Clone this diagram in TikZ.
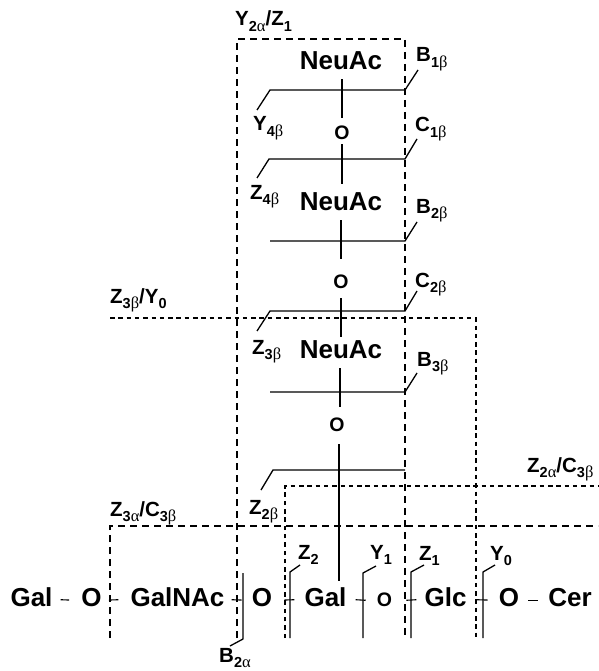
\documentclass[tikz,border=0pt]{standalone}
\usepackage{fontspec}
\setmainfont{Liberation Sans}
\newfontfamily\grk{Liberation Serif}
\usetikzlibrary{positioning}
\newcommand{\low}[1]{\raisebox{-5.5pt}{\fontsize{14.5}{14.5}\selectfont #1}}
\newcommand{\alp}{{\grk\mdseries\fontsize{16.5}{16.5}\selectfont α}}
\newcommand{\bet}{{\grk\mdseries\fontsize{16.5}{16.5}\selectfont β}}
\tikzset{
  sugar/.style={inner sep=0pt, anchor=base, font=\bfseries\fontsize{26}{26}\selectfont},
  oxy/.style={inner sep=0pt, anchor=base, font=\bfseries\fontsize{19.5}{19.5}\selectfont},
  frag/.style={inner sep=0pt, anchor=base west, font=\bfseries\fontsize{20.5}{20.5}\selectfont},
  cut/.style={line width=1.3pt, line join=miter},
  bond/.style={line width=1.1pt},
  longbox/.style={line width=2pt, dash pattern=on 7pt off 5pt},
  medbox/.style={line width=1.3pt, dash pattern=on 7pt off 5pt},
  finebox/.style={line width=1.3pt, dash pattern=on 4.5pt off 3.8pt}
}
\begin{document}
\begin{tikzpicture}[x=1pt,y=-1pt]
\useasboundingbox (0,0) rectangle (598,671);
% sugars
\node[sugar] (neuaca) at (341,70) {NeuAc};
\node[sugar] (neuacb) at (341,210) {NeuAc};
\node[sugar] (neuacc) at (341,358) {NeuAc};
\node[oxy] (oa) at (342,140) {O};
\node[oxy] (ob) at (341,288) {O};
\node[oxy] (oc) at (337,431) {O};
\node[sugar] (gala) at (31.5,606) {Gal};
\node[sugar] (oe) at (91.5,606) {O};
\node[sugar] (galnac) at (177.5,606) {GalNAc};
\node[sugar] (of) at (262,606) {O};
\node[sugar] (galb) at (325.5,606) {Gal};
\node[oxy] (og) at (384.5,606) {O};
\node[sugar] (glc) at (445.5,606) {Glc};
\node[sugar] (oh) at (509,606) {O};
\node[sugar] (cer) at (570,606) {Cer};
% chain
\draw[bond] ([shift={(1,9)}]neuaca.south) -- ([yshift=8pt]oa.north);
\draw[bond] ([yshift=-4pt]oa.south) -- ([shift={(1,-8)}]neuacb.north);
\draw[bond] ([yshift=-10pt]neuacb.south) -- ([yshift=15pt]ob.north);
\draw[bond] ([yshift=-10pt]ob.south) -- ([yshift=3pt]neuacc.north);
\draw[bond] ([shift={(-1,10)}]neuacc.south) -- ([shift={(3,-10)}]oc.north);
\draw[bond] ([shift={(2,13)}]oc.south) -- ([shift={(13.5,-6)}]galb.north);
\draw[bond] ([shift={(8,3)}]gala.east) -- ([shift={(-12,3)}]oe.west);
\draw[bond] ([shift={(7,3)}]oe.east) -- ([shift={(-12,3)}]galnac.west);
\draw[bond] ([shift={(7,3)}]galnac.east) -- ([shift={(-10,3)}]of.west);
\draw[bond] ([shift={(12,3)}]of.east) -- ([shift={(-10,3)}]galb.west);
\draw[bond] ([shift={(9,3)}]galb.east) -- ([shift={(-11,1)}]og.west);
\draw[bond] ([shift={(14,1)}]og.east) -- ([shift={(-8,3)}]glc.west);
\draw[bond] ([shift={(10,3)}]glc.east) -- ([shift={(-11,3)}]oh.west);
\draw[bond] ([shift={(9,3)}]oh.east) -- ([shift={(-10,3)}]cer.west);
% dashed boxes
\coordinate (boxbl) at (237,638); \coordinate (boxtl) at (237,39);
\coordinate (boxtr) at (405,39); \coordinate (boxbr) at (405,638);
\draw[longbox] (boxbl) -- (boxtl) -- (boxtr) -- (boxbr);
\coordinate (zyl) at (110,318); \coordinate (zyr) at (476,318); \coordinate (zyb) at (476,638);
\draw[finebox] (zyl) -- (zyr) -- (zyb);
\coordinate (zcl) at (110,638); \coordinate (zct) at (110,526); \coordinate (zcr) at (598,526);
\draw[medbox] (zcl) -- (zct) -- (zcr);
\coordinate (zdl) at (285,638); \coordinate (zdt) at (285,486); \coordinate (zdr) at (598,486);
\draw[finebox] (zdl) -- (zdt) -- (zdr);
% cleavages
\coordinate (ya) at (257,110); \coordinate (yb) at (270,90); \coordinate (yc) at (405,90); \coordinate (yd) at (418,70);
\draw[cut] (ya) -- (yb) -- (yc) -- (yd);
\coordinate (za) at (257,178); \coordinate (zb) at (269,159); \coordinate (zc) at (405,159); \coordinate (zd) at (417,139);
\draw[cut] (za) -- (zb) -- (zc) -- (zd);
\coordinate (xb) at (270,241); \coordinate (xc) at (405,241); \coordinate (xd) at (417,222);
\draw[cut] (xb) -- (xc) -- (xd);
\coordinate (wa) at (257,331); \coordinate (wb) at (270,311); \coordinate (wc) at (405,311); \coordinate (wd) at (417,291);
\draw[cut] (wa) -- (wb) -- (wc) -- (wd);
\coordinate (vb) at (270,392); \coordinate (vc) at (405,392); \coordinate (vd) at (417,373);
\draw[cut] (vb) -- (vc) -- (vd);
\coordinate (ua) at (261,490); \coordinate (ub) at (273,470); \coordinate (uc) at (405,470);
\draw[cut] (ua) -- (ub) -- (uc);
\coordinate (ba) at (243,573); \coordinate (bb) at (243,639); \coordinate (bc) at (230,646);
\draw[cut] (ba) -- (bb) -- (bc);
\coordinate (ca) at (290,638); \coordinate (cb) at (290,572); \coordinate (cc) at (300,565);
\draw[cut] (ca) -- (cb) -- (cc);
\coordinate (da) at (363,638); \coordinate (db) at (363,573); \coordinate (dc) at (376,566);
\draw[cut] (da) -- (db) -- (dc);
\coordinate (ea) at (411,638); \coordinate (eb) at (411,572); \coordinate (ec) at (424,565);
\draw[cut] (ea) -- (eb) -- (ec);
\coordinate (fa) at (483,638); \coordinate (fb) at (483,572); \coordinate (fc) at (495,565);
\draw[cut] (fa) -- (fb) -- (fc);
% labels
\node[frag] (yz) at (235,26) {Y\low{2\alp}/Z\low{1}};
\node[frag] (b1) at (416,62) {B\low{1\bet}};
\node[frag] (y4) at (253,131) {Y\low{4\bet}};
\node[frag] (c1) at (415,132) {C\low{1\bet}};
\node[frag] (z4) at (250,199) {Z\low{4\bet}};
\node[frag] (b2) at (416,213) {B\low{2\bet}};
\node[frag] (c2) at (415,287) {C\low{2\bet}};
\node[frag] (zy) at (110,303) {Z\low{3\bet}/Y\low{0}};
\node[frag] (z3) at (252,354) {Z\low{3\bet}};
\node[frag] (b3) at (417,366) {B\low{3\bet}};
\node[frag] (zc2) at (527,472) {Z\low{2\alp}/C\low{3\bet}};
\node[frag] (zc3) at (110,516) {Z\low{3\alp}/C\low{3\bet}};
\node[frag] (z2b) at (249,514) {Z\low{2\bet}};
\node[frag] (z2) at (298,559) {Z\low{2}};
\node[frag] (y1) at (370,559) {Y\low{1}};
\node[frag] (z1) at (419,560) {Z\low{1}};
\node[frag] (y0) at (490,560) {Y\low{0}};
\node[frag] (b2a) at (219,662) {B\low{2\alp}};
\end{tikzpicture}
\end{document}
